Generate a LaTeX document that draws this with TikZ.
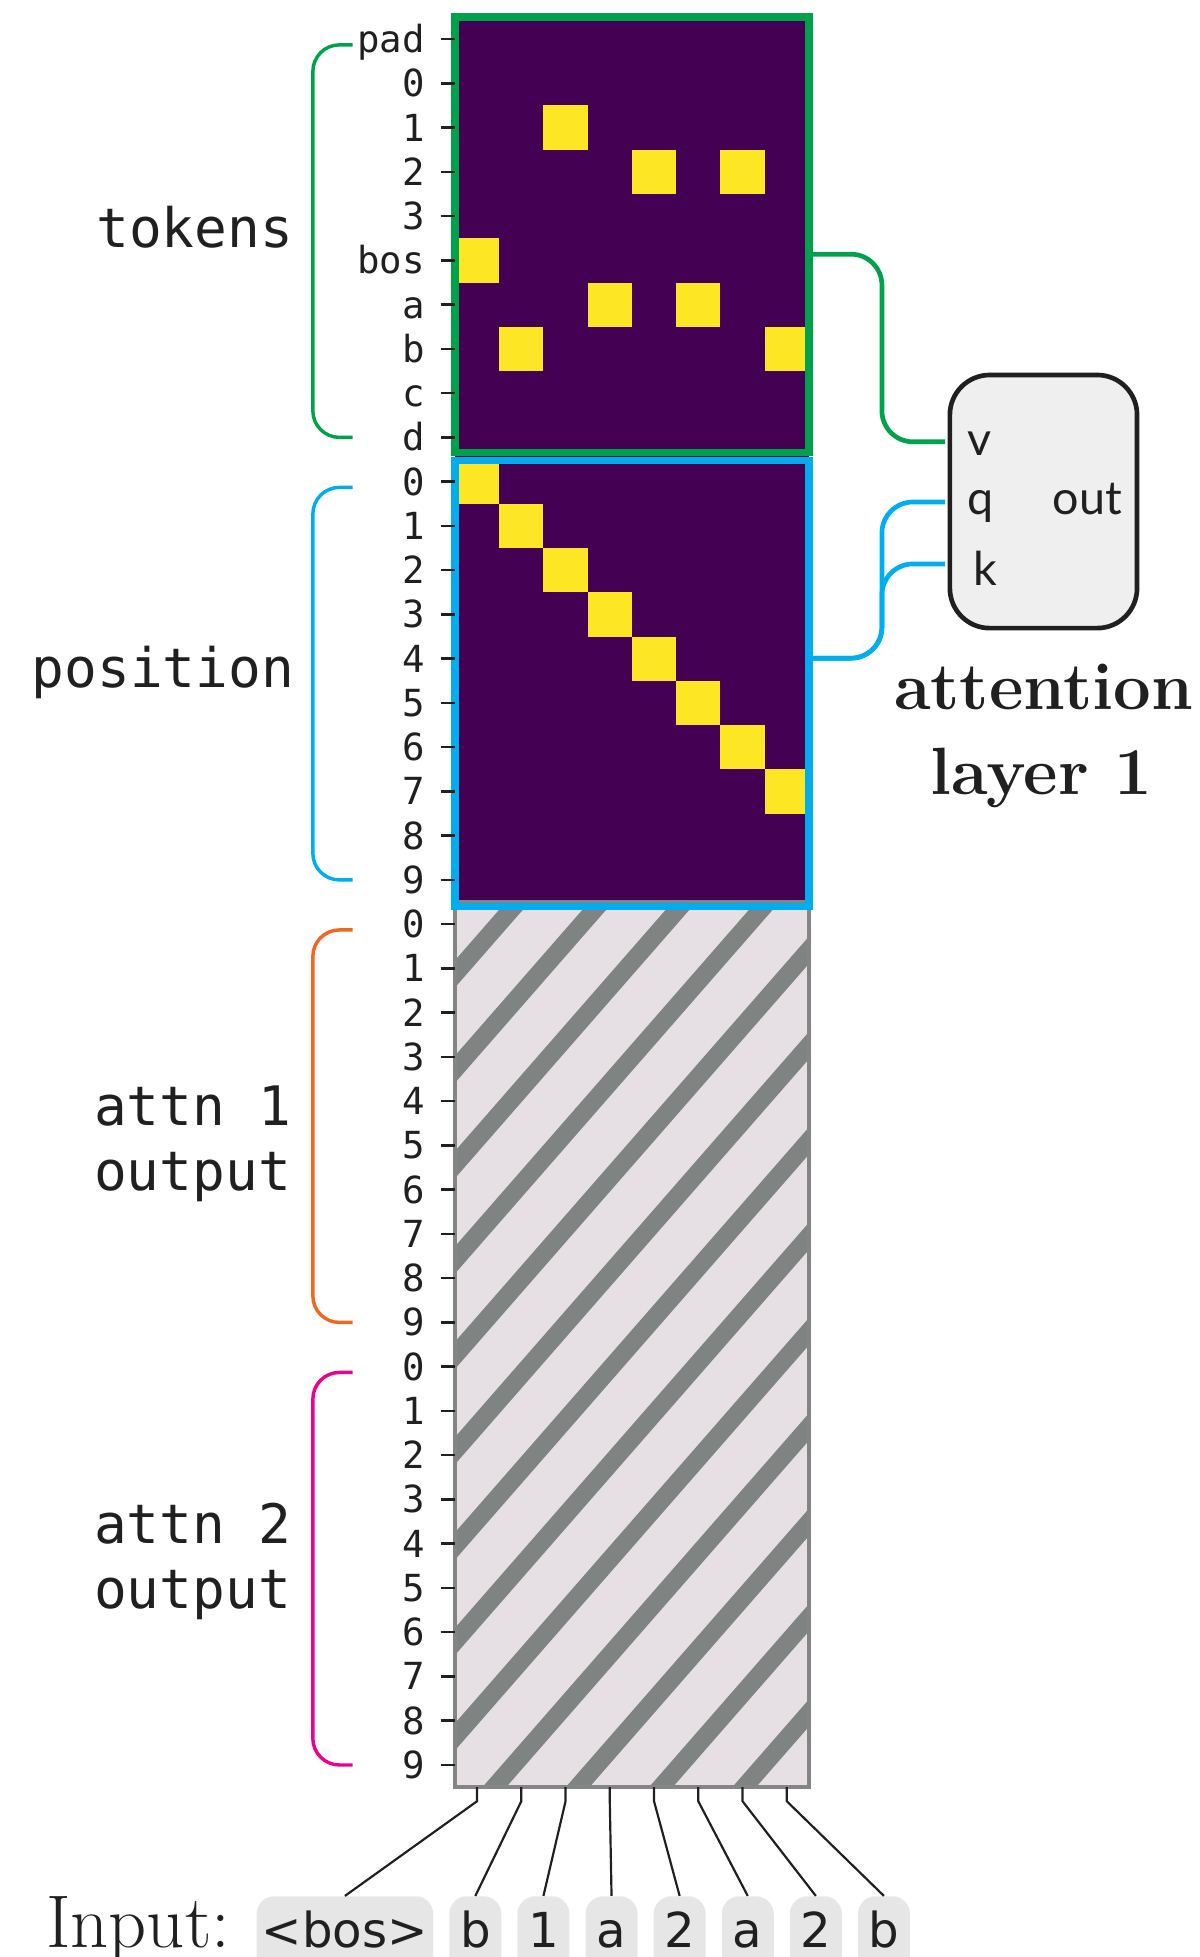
\documentclass[tikz,border=0pt]{standalone}
\usepackage{fontspec}
\usepackage{tikz}
\usepackage{xcolor}
\usetikzlibrary{calc,positioning}
\newfontfamily\monofont{DejaVu Sans Mono}
\newfontfamily\chipfont{DejaVu Sans}
\newfontfamily\portfont{Lato}
\definecolor{viridislow}{HTML}{440154}
\definecolor{viridishigh}{HTML}{FDE725}
\definecolor{tokgreen}{HTML}{00A14B}
\definecolor{posblue}{HTML}{00AEEF}
\definecolor{attnorange}{HTML}{F26522}
\definecolor{attnmagenta}{HTML}{EC008C}
\definecolor{hatchbg}{HTML}{E6E0E4}
\definecolor{hatchline}{HTML}{7F8482}
\definecolor{hatchedge}{HTML}{858585}
\definecolor{chipgray}{HTML}{E6E6E6}
\definecolor{boxgray}{HTML}{EFEFEF}
\definecolor{ink}{HTML}{202020}

\tikzset{
  ticklabel/.style={anchor=east, inner sep=0pt, text height=0.61cm, text depth=0pt, text=ink,
    font=\monofont\fontsize{24}{24}\selectfont},
  grouplabel/.style={anchor=base east, inner sep=0pt, text=ink,
    font=\monofont\fontsize{35}{40}\selectfont},
  bracket/.style={line width=2.2pt, rounded corners=0.6cm},
  link/.style={line width=3pt, rounded corners=0.7cm, shorten >=1.5pt},
  port/.style={anchor=base west, inner sep=0pt, text=ink, font=\portfont\fontsize{30}{30}\selectfont},
  title/.style={anchor=base, inner sep=0pt, text=ink, font=\bfseries\fontsize{43}{43}\selectfont},
  chip/.style={fill=chipgray, rounded corners=0.4cm, inner xsep=0.12cm, inner ysep=0.2cm,
    minimum width=1.175cm, text height=0.96cm, text depth=1cm, text=ink,
    font=\chipfont\fontsize{31}{31}\selectfont},
  wire/.style={ink, line width=1.4pt},
}

\begin{document}
\begin{tikzpicture}
  % canvas
  \useasboundingbox (-10.28,0.384) rectangle (16.82,-43.84);
  \clip (-10.28,0.384) rectangle (16.82,-43.84);
  % coordinates
  \coordinate (bus) at (9.65,0);
  % tokens and positions (one-hot rows)
  \fill[viridislow] (0,0) rectangle (8,-20);
  \foreach \col/\row in {0/5,1/7,2/2,3/6,4/3,5/6,6/3,7/7}
    \fill[viridishigh] (\col,-\row) rectangle ++(1,-1);
  \foreach \col in {0,...,7}
    \fill[viridishigh] (\col,-10-\col) rectangle ++(1,-1);
  % attention outputs, still empty
  \fill[hatchbg] (0,-20) rectangle (8,-40);
  \begin{scope}
    \clip (0,-20) rectangle (8,-40);
    \foreach \k in {-1,...,13}
      \draw[hatchline, line width=11.5pt] (3.167+1.882*\k,-18) -- ++(-20.96,-24);
  \end{scope}
  \draw[hatchedge, line width=2.2pt] (0,-20) rectangle (8,-40);
  % block borders
  \node[draw=tokgreen, line width=5pt, minimum width=8cm, minimum height=9.84cm, inner sep=0pt] (tok-box) at (4,-4.92) {};
  \node[draw=posblue, line width=5pt, minimum width=8cm, minimum height=10.08cm, inner sep=0pt] (pos-box) at (4,-15.06) {};
  % row ticks
  \foreach \lab [count=\i from 0] in {pad,0,1,2,3,bos,a,b,c,d} {
    \draw[ink, line width=1.6pt] (-0.32,-\i-0.5) -- (0,-\i-0.5);
    \node[ticklabel] (lab-\i) at (-0.68,-\i-0.5) {\lab};
  }
  \foreach \blk in {1,2,3}
    \foreach \n in {0,...,9} {
      \pgfmathtruncatemacro\r{10*\blk+\n}
      \draw[ink, line width=1.6pt] (-0.32,-\r-0.5) -- (0,-\r-0.5);
      \node[ticklabel] (lab-\r) at (-0.68,-\r-0.5) {\n};
    }
  % brackets
  \draw[tokgreen, bracket] (-2.31,-0.63) -- (-3.21,-0.63) -- (-3.21,-9.5) -- (-2.31,-9.5);
  \draw[posblue, bracket] (-2.31,-10.63) -- (-3.21,-10.63) -- (-3.21,-19.5) -- (-2.31,-19.5);
  \draw[attnorange, bracket] (-2.31,-20.63) -- (-3.21,-20.63) -- (-3.21,-29.5) -- (-2.31,-29.5);
  \draw[attnmagenta, bracket] (-2.31,-30.63) -- (-3.21,-30.63) -- (-3.21,-39.5) -- (-2.31,-39.5);
  % group labels
  \node[grouplabel] (tokens-label) at (-3.65,-5.22) {tokens};
  \node[grouplabel] (position-label) at (-3.63,-15.15) {position};
  \node[grouplabel] (attn1-label) at (-3.7,-25.04) {attn 1};
  \node[grouplabel] (attn1-output) at (-3.7,-26.51) {output};
  \node[grouplabel] (attn2-label) at (-3.7,-34.49) {attn 2};
  \node[grouplabel] (attn2-output) at (-3.7,-35.96) {output};
  % attention layer
  \node[draw=ink, fill=boxgray, line width=3pt, rounded corners=0.9cm, minimum width=4.23cm, minimum height=5.72cm] (attn) at (13.3,-10.95) {};
  \coordinate (v-in) at ($(attn.west)+(0,1.35)$);
  \coordinate (q-in) at ($(attn.west)+(0,-0.01)$);
  \coordinate (k-in) at ($(attn.west)+(0,-1.41)$);
  \draw[tokgreen, link] ([yshift=-0.44cm]tok-box.east) -| (bus |- v-in) -- (v-in);
  \draw[posblue, link] ([yshift=0.57cm]pos-box.east) -| (bus |- q-in) -- (q-in);
  \draw[posblue, link] ([yshift=0.57cm]pos-box.east) -| (bus |- k-in) -- (k-in);
  \node[port] (v) at (11.57,-9.90) {v};
  \node[port] (q) at (11.58,-11.25) {q};
  \node[port] (k) at (11.72,-12.84) {k};
  \node[port, anchor=base east] (out) at (15.08,-11.25) {out};
  \node[title] (title-top) at (13.3,-15.66) {attention};
  \node[title] (title-bottom) at (13.25,-17.58) {layer 1};
  % input sequence
  \node[anchor=base east, inner sep=0pt, text=ink, font=\fontsize{48}{48}\selectfont] (input) at (-5.07,-43.62) {Input:};
  \node[chip, anchor=north] (chip0) at (-2.486,-42.46) {<bos>};
  \foreach \tok [count=\j, remember=\j as \p (initially 0)] in {b,1,a,2,a,2,b}
    \node[chip, right=0.35cm of chip\p] (chip\j) {\tok};
  % wires from columns to tokens
  \foreach \j in {0,...,7}
    \draw[wire] (\j+0.5,-40) -- ++(0,-0.32) -- (chip\j.north);
\end{tikzpicture}
\end{document}
